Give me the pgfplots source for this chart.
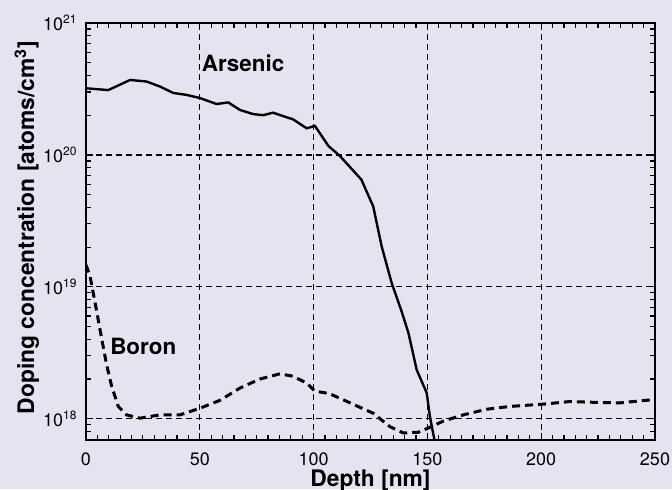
\documentclass[border=0pt]{standalone}
\usepackage{pgfplots}
\pgfplotsset{compat=1.18}
\usepackage{fontspec}
\setmainfont{TeX Gyre Heros}
\definecolor{bgc}{RGB}{228,228,240}
\begin{document}%
\pagecolor{bgc}%
\begin{tikzpicture}
\begin{axis}[
  scale only axis, width=284.5pt, height=208.5pt,
  ymode=log, xmin=0, xmax=250, ymin=6.9e17, ymax=1e21,
  xtick={0,50,100,150,200,250},
  minor xtick={5,10,...,245},
  ytick={1e18,1e19,1e20,1e21},
  minor ytick={7e17,8e17,9e17,2e18,3e18,4e18,5e18,6e18,7e18,8e18,9e18,2e19,3e19,4e19,5e19,6e19,7e19,8e19,9e19,2e20,3e20,4e20,5e20,6e20,7e20,8e20,9e20},
  yticklabels={10\textsuperscript{18},10\textsuperscript{19},10\textsuperscript{20},10\textsuperscript{21}},
  /pgf/number format/assume math mode=true,
  tickwidth=3.5pt, subtickwidth=2.5pt,
  xtick style={draw=black, line width=0.6pt},
  ytick style={draw=black, line width=0.6pt},
  axis line style={line width=0.9pt},
  xmajorgrids, ymajorgrids,
  major grid style={black, dash pattern=on 3pt off 2pt, line width=0.6pt},
  tick label style={font=\fontsize{9}{10}\selectfont},
  xticklabel style={inner sep=0pt, yshift=-6.3pt},
  yticklabel style={inner sep=0pt, xshift=-4pt},
  xlabel={\textbf{Depth [nm]}},
  ylabel={\textbf{Doping concentration [atoms/cm\textsuperscript{3}]}},
  label style={font=\fontsize{11.4}{12}\selectfont},
  xlabel style={at={(axis description cs:0.5,0)}, anchor=north, inner sep=0pt, yshift=-14.5pt},
  ylabel style={at={(axis description cs:-0.104,0.51)}, anchor=center, inner sep=0pt},
]
\addplot[black, line width=1.2pt] coordinates {
(0,3.2e20) (9.8,3.1e20) (19.4,3.7e20) (26.6,3.6e20) (32.5,3.3e20) (38.3,2.95e20)
(44.2,2.85e20) (50,2.7e20) (57.4,2.43e20) (62.5,2.5e20) (67.7,2.19e20) (73.4,2.04e20)
(77.8,2.0e20) (82.2,2.09e20) (86.6,1.97e20) (91,1.86e20) (97,1.59e20) (100.6,1.66e20)
(106.5,1.17e20) (111.6,9.8e19) (121,6.5e19) (126.2,4.07e19) (129.9,2.03e19)
(134.3,1.07e19) (138.7,6.5e18) (141.7,4.45e18) (145.3,2.35e18) (149.7,1.57e18)
(151.1,1.04e18) (153.8,6.0e17)
};
\addplot[black, line width=1.5pt, dash pattern=on 4pt off 2.5pt] coordinates {
(0,1.47e19) (1.8,1.2e19) (4,7.6e18) (6.2,4.7e18) (9,2.6e18) (11.3,1.76e18)
(14.2,1.24e18) (17.8,1.07e18) (23.7,1.01e18) (32.5,1.07e18) (41.3,1.07e18)
(50,1.2e18) (58.9,1.38e18) (67.7,1.71e18) (76.4,2.0e18) (85.2,2.19e18) (91,2.1e18)
(97,1.86e18) (100.6,1.62e18) (107,1.55e18) (116,1.32e18) (126.2,1.1e18)
(133.6,8.7e17) (139.4,7.8e17) (146,7.9e17) (150.4,8.5e17) (157,9.6e17)
(165.8,1.07e18) (176,1.18e18) (186.3,1.24e18) (200.9,1.29e18) (212.6,1.35e18)
(224.4,1.33e18) (234.6,1.32e18) (250,1.4e18)
};
\node[anchor=base west, inner sep=0pt, font=\fontsize{11.2}{12}\selectfont\bfseries] at (axis cs:50.8,4.28e20) {Arsenic};
\node[anchor=base west, inner sep=0pt, font=\fontsize{11.2}{12}\selectfont\bfseries] at (axis cs:10.5,3.05e18) {Boron};
\coordinate (bl) at (rel axis cs:-0.1511,-0.1175);
\coordinate (tr) at (rel axis cs:1.0299,1.0552);
\end{axis}
\pgfresetboundingbox
\useasboundingbox (bl) rectangle (tr);
\end{tikzpicture}%
\end{document}
